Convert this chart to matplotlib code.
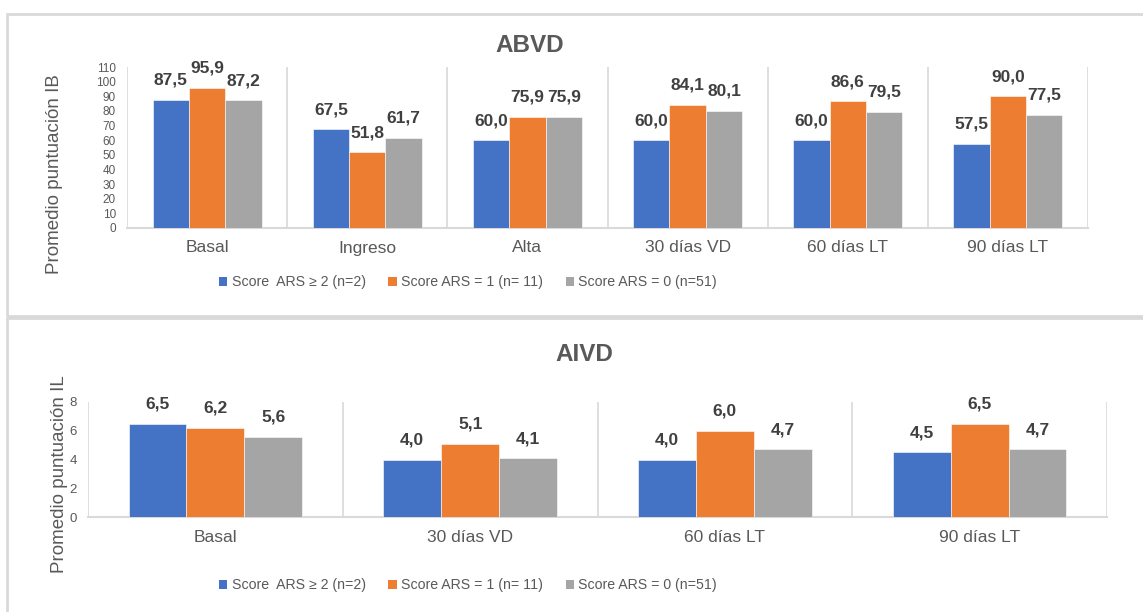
import numpy as np
import matplotlib
matplotlib.use("Agg")
import matplotlib.pyplot as plt
from matplotlib.patches import Rectangle, Patch

plt.rcParams['font.family'] = ['Liberation Sans', 'DejaVu Sans']

# Series labels (shared by both panels)
series_labels = ["Score  ARS \u2265 2 (n=2)", "Score ARS = 1 (n= 11)", "Score ARS = 0 (n=51)"]
colors = ["#4472C4", "#ED7D31", "#A5A5A5"]

# ABVD panel
abvd_categories = ["Basal", "Ingreso", "Alta", "30 días VD", "60 días LT", "90 días LT"]
abvd_ars2 = [87.5, 67.5, 60.0, 60.0, 60.0, 57.5]
abvd_ars1 = [95.9, 51.8, 75.9, 84.1, 86.6, 90.0]
abvd_ars0 = [87.2, 61.7, 75.9, 80.1, 79.5, 77.5]
abvd_yticks = list(range(0, 111, 10))

# AIVD panel
aivd_categories = ["Basal", "30 días VD", "60 días LT", "90 días LT"]
aivd_ars2 = [6.5, 4.0, 4.0, 4.5]
aivd_ars1 = [6.2, 5.1, 6.0, 6.5]
aivd_ars0 = [5.6, 4.1, 4.7, 4.7]
aivd_yticks = [0, 2, 4, 6, 8]

W, H = 1143, 612
fig = plt.figure(figsize=(W / 100, H / 100), dpi=100)

GRID = "#D9D9D9"
TICK = "#595959"
VAL = "#404040"


def px(x0, y0, x1, y1):
    """Pixel box (left, top, right, bottom) -> figure-fraction rect."""
    return [x0 / W, 1 - y1 / H, (x1 - x0) / W, (y1 - y0) / H]


def draw_panel(rect, cats, series, yticks, ymax, ytick_size, title, title_xy,
               title_size, ylabel, ylabel_xy, legend_xy):
    ax = fig.add_axes(rect)
    n = len(cats)
    x = np.arange(n)
    bw = 0.227
    offsets = [-bw, 0, bw]
    handles = []
    for vals, off, col, lab in zip(series, offsets, colors, series_labels):
        ax.bar(x + off, vals, width=bw, color=col, edgecolor="white",
               linewidth=0.4, label=lab, zorder=3)
        for xi, v in zip(x, vals):
            ax.annotate(f"{v:.1f}".replace(".", ","), (xi + off, v),
                        xytext=(0, 10.8), textcoords="offset points",
                        ha="center", va="baseline", fontsize=12.5,
                        fontweight="bold", color=VAL, zorder=4)
        handles.append(Patch(facecolor=col, edgecolor="none", label=lab))

    ax.set_xlim(-0.5, n - 0.5)
    ax.set_ylim(0, ymax)
    ax.set_yticks(yticks)
    ax.set_xticks(x)
    ax.set_xticklabels(cats)
    ax.set_xticks(np.arange(n + 1) - 0.5, minor=True)
    ax.grid(which="minor", axis="x", color=GRID, linewidth=1.2, zorder=0)
    ax.tick_params(axis="x", which="both", length=0, pad=9,
                   labelsize=12.5, labelcolor=TICK)
    ax.tick_params(axis="y", length=0, pad=8, labelsize=ytick_size,
                   labelcolor=TICK)
    for s in ["top", "left", "right"]:
        ax.spines[s].set_visible(False)
    ax.spines["bottom"].set_color(GRID)
    ax.spines["bottom"].set_linewidth(1.5)

    fig.text(title_xy[0] / W, 1 - title_xy[1] / H, title, ha="center",
             va="center", fontsize=title_size, fontweight="bold", color=TICK)
    fig.text(ylabel_xy[0] / W, 1 - ylabel_xy[1] / H, ylabel, rotation=90,
             ha="center", va="center", fontsize=13.5, color=TICK)
    fig.legend(handles=handles, loc="center",
               bbox_to_anchor=(legend_xy[0] / W, 1 - legend_xy[1] / H),
               ncol=3, frameon=False, labelcolor=TICK, fontsize=10.2,
               handlelength=0.6, handleheight=0.6, handletextpad=0.3,
               columnspacing=1.6, borderpad=0, borderaxespad=0)
    return ax


draw_panel(px(127, 67, 1088, 228), abvd_categories,
           [abvd_ars2, abvd_ars1, abvd_ars0], abvd_yticks, 110, 8.5,
           "ABVD", (530, 45), 17.5, "Promedio puntuación IB", (55, 174),
           (468, 282))

draw_panel(px(88, 402, 1107, 517), aivd_categories,
           [aivd_ars2, aivd_ars1, aivd_ars0], aivd_yticks, 8, 9.5,
           "AIVD", (584, 354), 17.5, "Promedio puntuación IL", (60, 474),
           (468, 585))

# Chart frames
for (x0, y0, x1, y1) in [(7, 14, 1160, 316), (7, 318, 1160, 640)]:
    fig.patches.append(Rectangle((x0 / W, 1 - y1 / H), (x1 - x0) / W,
                                 (y1 - y0) / H, transform=fig.transFigure,
                                 fill=False, edgecolor=GRID, linewidth=2.0,
                                 zorder=0))

fig.savefig("out.png", dpi=100, facecolor="white")
